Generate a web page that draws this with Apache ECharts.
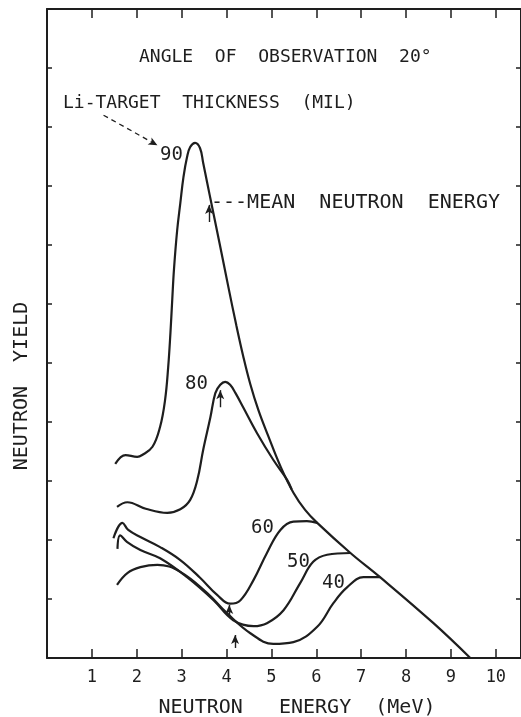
<!DOCTYPE html>
<html>
<head>
<meta charset="utf-8">
<script src="https://cdn.jsdelivr.net/npm/echarts@6/dist/echarts.min.js"></script>
<style>
  html, body { margin: 0; padding: 0; background: #fff; }
  #main { width: 521px; height: 717px; }
</style>
</head>
<body>
<div id="main"></div>
<script>
// thickness labels (mil) and the curves, [MeV, yield]
const thickness = ['90', '80', '60', '50', '40'];

const curve90 = [[1.52,3.29],[1.75,3.44],[2.01,3.41],[2.12,3.44],[2.35,3.58],[2.52,3.92],[2.63,4.37],
  [2.7,4.93],[2.75,5.51],[2.79,6.07],[2.83,6.6],[2.9,7.25],[2.97,7.71],[3.04,8.15],[3.12,8.49],
  [3.19,8.66],[3.3,8.73],[3.41,8.64],[3.48,8.39],[3.57,8.05],[3.68,7.64],[3.86,6.97],[4.04,6.29],
  [4.22,5.63],[4.37,5.12],[4.53,4.64],[4.71,4.2],[4.93,3.76],[5.2,3.25],[5.49,2.8],[5.75,2.51],
  [6.02,2.29],[6.76,1.78],[7.42,1.37],[8.61,0.59],[9.43,0]];
const curve80 = [[1.56,2.56],[1.79,2.64],[2.2,2.53],[2.68,2.46],[2.97,2.52],[3.19,2.68],[3.35,3.02],
  [3.48,3.53],[3.64,4.08],[3.75,4.49],[3.86,4.63],[3.97,4.68],[4.08,4.63],[4.2,4.49],[4.37,4.25],
  [4.68,3.81],[5.04,3.36],[5.35,3.02],[5.45,2.86]];
const curve60 = [[1.48,2.03],[1.68,2.29],[1.81,2.17],[2.08,2.05],[2.52,1.88],[2.97,1.66],[3.41,1.36],
  [3.79,1.07],[4.08,0.92],[4.31,0.98],[4.6,1.32],[4.9,1.78],[5.2,2.17],[5.49,2.31],[5.79,2.32],[6.02,2.29]];
const curve50 = [[1.57,1.85],[1.63,2.08],[1.78,1.97],[2.08,1.83],[2.52,1.69],[3.12,1.37],[3.71,0.98],
  [4.15,0.64],[4.6,0.54],[4.9,0.59],[5.27,0.81],[5.64,1.27],[5.93,1.63],[6.24,1.75],[6.76,1.78]];
const curve40 = [[1.56,1.24],[1.79,1.44],[2.08,1.54],[2.46,1.58],[2.97,1.46],[3.57,1.1],[4.01,0.76],
  [4.53,0.42],[5.04,0.24],[5.49,0.27],[6.02,0.53],[6.38,0.93],[6.69,1.2],[7.05,1.37],[7.42,1.37]];

// mean neutron energy arrows: x, tail y, tip y
const meanX    = [3.61, 3.86, 4.06, 4.19];
const meanTail = [7.39, 4.25, 0.73, 0.17];
const meanTip  = [7.68, 4.54, 0.90, 0.39];

// dashed pointer from the thickness caption to "90"
const liArrow = [[1.26, 9.2], [2.46, 8.69]];

const xTicks = [0, 1, 2, 3, 4, 5, 6, 7, 8, 9, 10];
const xLabels = [1, 2, 3, 4, 5, 6, 7, 8, 9, 10];
const yTicks = [0, 1, 2, 3, 4, 5, 6, 7, 8, 9, 10, 11];

const ink = '#1e1e1e';
const mono = 'DejaVu Sans Mono';

const chart = echarts.init(document.getElementById('main'));

const curves = [curve90, curve80, curve60, curve50, curve40];
const series = curves.map((c, i) => ({
  name: thickness[i],
  type: 'line',
  data: c,
  smooth: 0.4,
  showSymbol: false,
  silent: true,
  lineStyle: { color: ink, width: 2.2 }
}));

const arrows = meanX.map((x, i) => [
  { coord: [x, meanTail[i]] },
  { coord: [x, meanTip[i]] }
]);
arrows.push([
  { coord: liArrow[0], lineStyle: { type: [5, 4], width: 1.3 } },
  { coord: liArrow[1] }
]);

series[0].markLine = {
  silent: true,
  symbol: ['none', 'arrow'],
  symbolSize: [6, 9],
  label: { show: false },
  lineStyle: { color: ink, width: 1.4, type: 'solid' },
  emphasis: { disabled: true },
  data: arrows
};

function txt(text, x, y, size, align, rotation) {
  return {
    type: 'text', x: x, y: y, silent: true, rotation: rotation || 0,
    style: { text: text, font: size + 'px ' + mono, fill: ink,
             textAlign: align || 'left', textVerticalAlign: 'middle' }
  };
}

function axis(pos, max, ticks, tickLen, labels) {
  return {
    type: 'value',
    position: pos,
    min: 0, max: max, interval: 1,
    splitLine: { show: false },
    axisLine: { show: true, onZero: false, lineStyle: { color: ink, width: 2 } },
    axisTick: { inside: true, length: tickLen, customValues: ticks,
                lineStyle: { color: ink, width: 1.5 } },
    axisLabel: labels
      ? { margin: 11, fontFamily: mono, fontSize: 17, color: ink, customValues: labels }
      : { show: false }
  };
}

option = {
  backgroundColor: '#ffffff',
  animation: false,
  grid: { left: 47, right: 0, top: 9, bottom: 59 },
  xAxis: [
    axis('bottom', 10.56, xTicks, 9, xLabels),
    axis('top', 10.56, xTicks, 9, null)
  ],
  yAxis: [
    axis('left', 11, yTicks, 5, null),
    axis('right', 11, yTicks, 5, null)
  ],
  graphic: [
    txt('ANGLE  OF  OBSERVATION  20°', 139, 57, 18),
    txt('Li-TARGET  THICKNESS  (MIL)', 63, 103, 18),
    txt('---MEAN  NEUTRON  ENERGY', 211, 203, 20),
    txt(thickness[0], 160, 155, 19),
    txt(thickness[1], 185, 384, 19),
    txt(thickness[2], 251, 528, 19),
    txt(thickness[3], 287, 562, 19),
    txt(thickness[4], 322, 583, 19),
    txt('NEUTRON   ENERGY  (MeV)', 297, 708, 20, 'center'),
    txt('NEUTRON  YIELD', 22, 386, 20, 'center', Math.PI / 2)
  ],
  series
};

chart.setOption(option);
</script>
</body>
</html>
